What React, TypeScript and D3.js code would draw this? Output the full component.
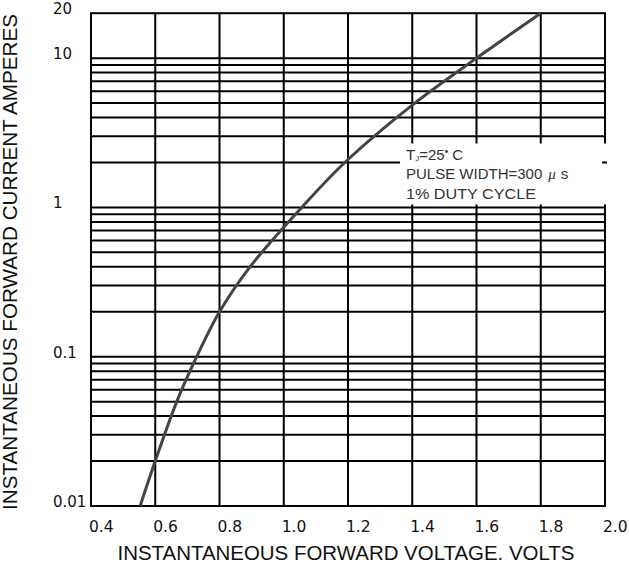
import * as d3 from "d3";

// forward voltage (V) vs instantaneous forward current (A)
const volts = [0.553, 0.6, 0.667, 0.729, 0.8, 0.895, 1.056, 1.19, 1.4, 1.6, 1.8];
const amps = [0.01, 0.02, 0.05, 0.1, 0.2, 0.4, 1.0, 2, 4.85, 10, 20];

const xTicks = [0.4, 0.6, 0.8, 1.0, 1.2, 1.4, 1.6, 1.8, 2.0];
const yTickLabels = [
  { v: 20, label: "20" },
  { v: 10, label: "10" },
  { v: 1, label: "1" },
  { v: 0.1, label: "0.1" },
  { v: 0.01, label: "0.01" },
];
const decades = [0.01, 0.1, 1];
const legendLines = ["PULSE WIDTH=300", "1% DUTY CYCLE"];

const App: React.FC = () => {
  const width = 629;
  const height = 566;
  const marginLeft = 91;
  const marginRight = 24;
  const marginTop = 13.2;
  const marginBottom = 60;

  const x = d3.scaleLinear([0.4, 2.0], [marginLeft, width - marginRight]);
  const y = d3.scaleLog([0.01, 20], [height - marginBottom, marginTop]);

  // minor gridlines at 2..9 of each decade, plus the decade lines
  const hLines: number[] = [];
  decades.forEach((d) => {
    for (let k = 1; k <= 9; k++) hLines.push(d * k);
  });
  hLines.push(10);

  const data = volts.map((v, i) => [v, amps[i]] as [number, number]);
  const line = d3
    .line<[number, number]>()
    .x((d) => x(d[0]))
    .y((d) => y(d[1]))
    .curve(d3.curveCatmullRom.alpha(0.5));

  const [x0, x1] = x.range();
  const [y0, y1] = y.range();
  const boxX = x1 - 205;

  return (
    <svg
      width={width}
      height={height}
      style={{ position: "absolute", left: 0, top: 0, background: "#fff" }}
    >
      <g stroke="#000" strokeWidth={2}>
        {hLines.map((v) => (
          <line key={"h" + v} x1={x0} x2={x1} y1={y(v)} y2={y(v)} />
        ))}
        {xTicks.map((v) => (
          <line key={"v" + v} x1={x(v)} x2={x(v)} y1={y0} y2={y1} />
        ))}
        <rect x={x0} y={y1} width={x1 - x0} height={y0 - y1} fill="none" />
      </g>

      <path d={line(data) ?? undefined} fill="none" stroke="#444" strokeWidth={3} />

      {/* legend box */}
      <rect x={boxX} y={y(2) - 19} width={x1 + 3 - boxX} height={y(1) - y(2) + 16} fill="#fff" />
      <line x1={x1 - 3} x2={x1 + 2} y1={y(2)} y2={y(2)} stroke="#000" strokeWidth={2} />
      <g fontFamily="'Liberation Sans', Arial, sans-serif" fontSize={15} fill="#333">
        <text x={boxX + 6} y={y(2) - 2}>
          T<tspan fontSize={8} dy={1}>J</tspan>
          <tspan dy={-1}>=25</tspan>
          <tspan fontSize={10} dy={-5}>•</tspan>
          <tspan dy={5}> C</tspan>
        </text>
        <text x={boxX + 6} y={y(2) + 17}>
          {legendLines[0]}
          <tspan fontFamily="'Liberation Serif', serif" fontStyle="italic" dx={6}>μ</tspan>
          <tspan dx={5}>s</tspan>
        </text>
        <text x={boxX + 6} y={y(2) + 37} textLength={130} lengthAdjust="spacingAndGlyphs">
          {legendLines[1]}
        </text>
      </g>

      {/* tick labels */}
      <g fontFamily="'DejaVu Sans', sans-serif" fill="#111">
        {xTicks.map((v) => (
          <text key={"xt" + v} x={x(v) - 2} y={532} fontSize={15.5}>
            {v.toFixed(1)}
          </text>
        ))}
        {yTickLabels.map((t) => (
          <text key={"yt" + t.v} x={53} y={y(t.v) + 1} fontSize={15}>
            {t.label}
          </text>
        ))}
      </g>

      {/* axis titles */}
      <g fontFamily="'Liberation Sans', Arial, sans-serif" fontSize={20} fill="#111">
        <text
          x={346}
          y={560}
          textAnchor="middle"
          textLength={457}
          lengthAdjust="spacingAndGlyphs"
        >
          INSTANTANEOUS FORWARD VOLTAGE. VOLTS
        </text>
        <text
          transform={`translate(17,262) rotate(-90)`}
          textAnchor="middle"
          textLength={496}
          lengthAdjust="spacingAndGlyphs"
        >
          INSTANTANEOUS FORWARD CURRENT AMPERES
        </text>
      </g>
    </svg>
  );
};

export default App;
